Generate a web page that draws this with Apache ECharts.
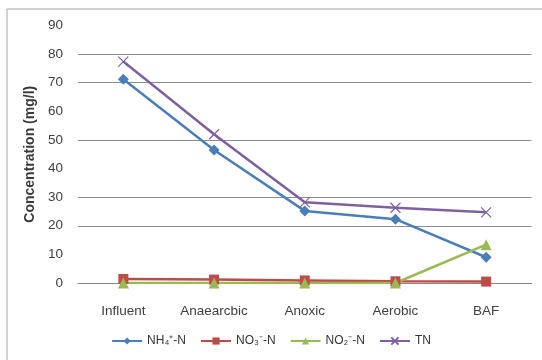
<!DOCTYPE html>
<html>
<head>
<meta charset="utf-8">
<script src="https://cdn.jsdelivr.net/npm/echarts@6/dist/echarts.min.js"></script>
<style>html,body{margin:0;padding:0;background:#fff}#c{width:542px;height:360px}</style>
</head>
<body>
<div id="c"></div>
<script>
var categories = ['Influent', 'Anaearcbic', 'Anoxic', 'Aerobic', 'BAF'];
var nh4 = [71.2, 46.5, 25.2, 22.3, 9.0];
var no3 = [1.4, 1.2, 0.9, 0.6, 0.5];
var no2 = [0, 0, 0, 0, 13.4];
var tn = [77.4, 52.0, 28.2, 26.3, 24.7];
var seriesNames = ['NH\u2084\u207A-N', 'NO\u2083\u207B-N', 'NO\u2082\u207B-N', 'TN'];
var yTicks = [0, 10, 20, 30, 40, 50, 60, 70, 80, 90];

var chart = echarts.init(document.getElementById('c'));
var font = 'Liberation Sans';
function line(name, data, color, symbol, size) {
  return {
    name: name, type: 'line', data: data, symbol: symbol, symbolSize: size,
    showSymbol: true,
    lineStyle: {color: color, width: 2.5},
    itemStyle: {color: color, borderColor: color, borderWidth: symbol.indexOf('path') === 0 ? 1.2 : 0},
    emphasis: {disabled: true}, animation: false
  };
}
chart.setOption({
  backgroundColor: '#fff',
  animation: false,
  textStyle: {fontFamily: font},
  graphic: [{type: 'rect', shape: {x: 7, y: 9, width: 600, height: 400}, style: {fill: 'none', stroke: '#a6a6a6', lineWidth: 1}}],
  grid: {left: 78, right: 10.5, top: 25.5, bottom: 77},
  legend: {
    bottom: 8, left: 'center', itemWidth: 30, itemHeight: 9, itemGap: 14,
    textStyle: {fontFamily: font, fontSize: 12, color: '#333'},
    data: seriesNames
  },
  xAxis: {
    type: 'category', data: categories, boundaryGap: true,
    axisLine: {show: true, lineStyle: {color: '#868686', width: 1}},
    axisTick: {show: false},
    axisLabel: {margin: 21, fontFamily: font, fontSize: 13.5, color: '#404040'}
  },
  yAxis: {
    type: 'value', min: 0, max: 90, interval: 10,
    name: 'Concentration (mg/l)', nameLocation: 'middle', nameGap: 38, nameRotate: 90,
    nameTextStyle: {fontFamily: font, fontSize: 14, fontWeight: 'bold', color: '#3a3a3a'},
    axisLine: {show: false}, axisTick: {show: false},
    axisLabel: {margin: 15, fontFamily: font, fontSize: 13.5, color: '#404040',
      formatter: function (v) { return yTicks.indexOf(v) >= 0 ? String(v) : ''; }},
    splitLine: {show: true, lineStyle: {width: 1.2,
      color: ['#8c8c8c', 'transparent', '#8c8c8c', '#8c8c8c', 'transparent', '#8c8c8c', 'transparent', '#8c8c8c', '#8c8c8c', 'transparent']}}
  },
  series: [
    line(seriesNames[0], nh4, '#4A7EBB', 'diamond', 11),
    line(seriesNames[1], no3, '#BE4B48', 'rect', 10),
    line(seriesNames[2], no2, '#98B954', 'triangle', 11),
    line(seriesNames[3], tn, '#7D60A0', 'path://M0,0L10,10M10,0L0,10', 10)
  ]
});
</script>
</body>
</html>
